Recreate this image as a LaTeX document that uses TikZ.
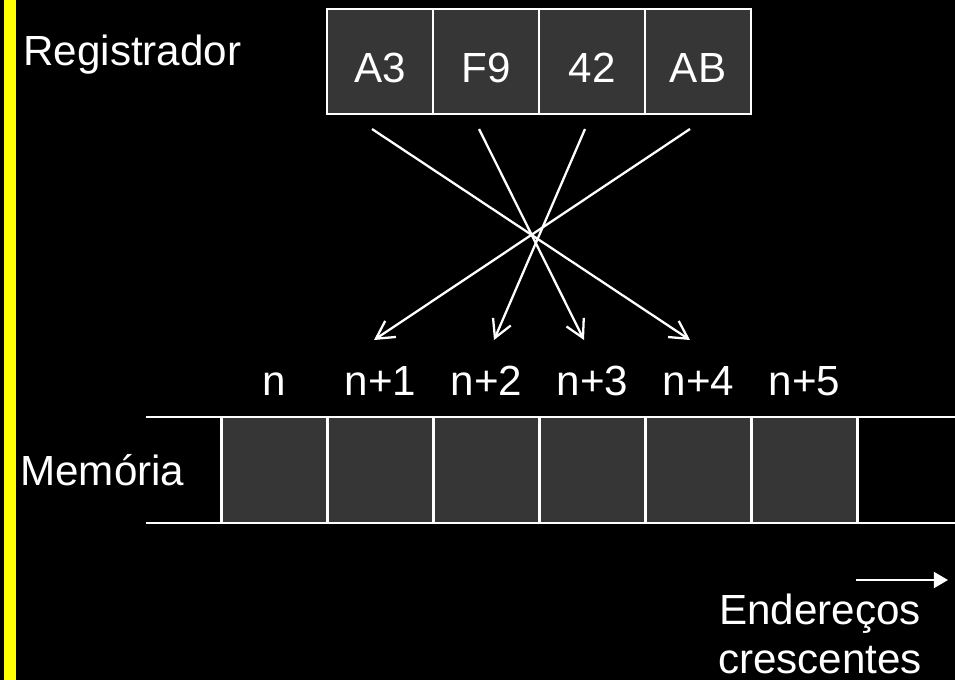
\documentclass[tikz,border=0pt]{standalone}
\usepackage{fontspec}
\setmainfont{Liberation Sans}
\usetikzlibrary{arrows.meta}
\definecolor{cellgrey}{RGB}{54,54,54}
\definecolor{baryellow}{RGB}{255,255,0}

\begin{document}
\begin{tikzpicture}[x=0.02cm,y=-0.02cm,
		>={Straight Barb[length=10pt,width=11pt]},
		txt/.style={text=white,inner sep=0pt,font=\fontsize{24}{27.5}\selectfont},
		regcell/.style={txt,draw=white,line width=1.3pt,fill=cellgrey,
			minimum width=2.12cm,minimum height=2.1cm,text height=0.82cm,text depth=0pt},
		memcell/.style={draw=white,line width=1.3pt,fill=cellgrey,
			minimum width=2.12cm,minimum height=2.12cm,inner sep=0pt},
		wire/.style={draw=white,line width=1.3pt}]
			%%%	Fundo
			\fill[black] (0,0) rectangle (955,680);
			\useasboundingbox (0,0) rectangle (955,680);
			\fill[baryellow] (4,0) rectangle (16,680);
			%%%	Registrador
			\node[txt,anchor=base west] (reglabel) at (23,65) {Registrador};
			\foreach \t [count=\i] in {A3,F9,42,AB}
			\node[regcell] (r\i) at (274+106*\i,61.5) {\t};
			%%%	Memoria
			\node[txt,anchor=base west] (memlabel) at (20,485) {Memória};
			\coordinate (mtl) at (146,417);
			\coordinate (mtr) at (955,417);
			\coordinate (mbl) at (146,523);
			\coordinate (mbr) at (955,523);
			\draw[wire] (mtl) -- (mtr);
			\draw[wire] (mbl) -- (mbr);
			\foreach \i in {0,...,5}
			{
			\node[memcell] (m\i) at (274.5+106*\i,470) {};
			\ifnum\i=0
			\node[txt,anchor=base] (l\i) at ([yshift=0.4cm]m\i.north) {n};
			\else
			\node[txt,anchor=base] (l\i) at ([yshift=0.4cm]m\i.north) {n+\i};
			\fi
			}
			%%%	Setas
			\coordinate (s1) at (372,129);
			\coordinate (s2) at (479,129);
			\coordinate (s3) at (585,129);
			\coordinate (s4) at (690,129);
			\coordinate (e1) at (374,340);
			\coordinate (e2) at (494,340);
			\coordinate (e3) at (584,340);
			\coordinate (e4) at (690,340);
			\draw[->,white,line width=1.3pt] (s1) -- (e4);
			\draw[->,white,line width=1.3pt] (s2) -- (e3);
			\draw[->,white,line width=1.3pt] (s3) -- (e2);
			\draw[->,white,line width=1.3pt] (s4) -- (e1);
			%%%	Enderecos
			\coordinate (ea) at (856,580);
			\coordinate (eb) at (948,580);
			\draw[-{Triangle[length=8pt,width=9pt]},white,line width=1.3pt] (ea) -- (eb);
			\node[txt,align=center] (endlabel) at (820,634) {Endereços\\crescentes};
		\end{tikzpicture}
\end{document}
